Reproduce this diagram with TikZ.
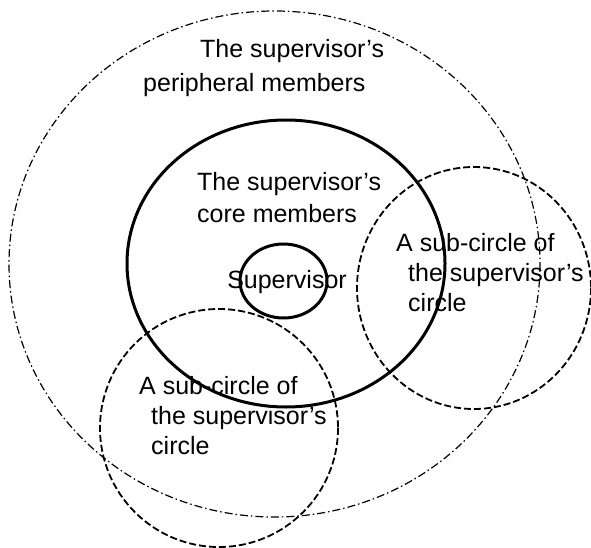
\documentclass[tikz,border=0pt]{standalone}
\usepackage{fontspec}
\setmainfont{Liberation Sans}
\usepackage{tikz}

\begin{document}
\begin{tikzpicture}[x=1pt,y=-1pt,
		outer/.style={line width=1.2pt,dash pattern=on 8pt off 3pt on 1.5pt off 3pt},
		sub/.style={line width=1.8pt,dash pattern=on 7pt off 3pt},
		core/.style={line width=3pt},
		lbl/.style={inner sep=0pt,align=left,anchor=north west}]
	\useasboundingbox (0,0) rectangle (591,548);

	% circles
	\draw[outer] (274.5,264) ellipse [x radius=265.5,y radius=253];
	\draw[core] (286,263.5) ellipse [x radius=159,y radius=143.5];
	\draw[core] (283.5,281) ellipse [x radius=43.5,y radius=37];
	\draw[sub] (474,288) ellipse [x radius=117,y radius=121];
	\draw[sub] (219,428) circle [radius=119];

	% labels
	\node (peripheral) [lbl,font=\fontsize{25}{34}\selectfont] at (143,39) {
		\hspace*{57pt}The supervisor’s\\
		peripheral members
	};
	\node (coremembers) [lbl,font=\fontsize{25}{32}\selectfont] at (197,172) {
		The supervisor’s\\
		core members
	};
	\node (supervisor) [inner sep=0pt,anchor=base,font=\fontsize{25}{30}\selectfont] at (287,288) {Supervisor};
	\node (subright) [lbl,font=\fontsize{25}{30}\selectfont] at (396,233) {
		A sub-circle of\\
		\hspace*{12pt}the supervisor’s\\
		\hspace*{12pt}circle
	};
	\node (subleft) [lbl,font=\fontsize{25}{30}\selectfont] at (139,376) {
		A sub-circle of\\
		\hspace*{12pt}the supervisor’s\\
		\hspace*{12pt}circle
	};
\end{tikzpicture}
\end{document}
